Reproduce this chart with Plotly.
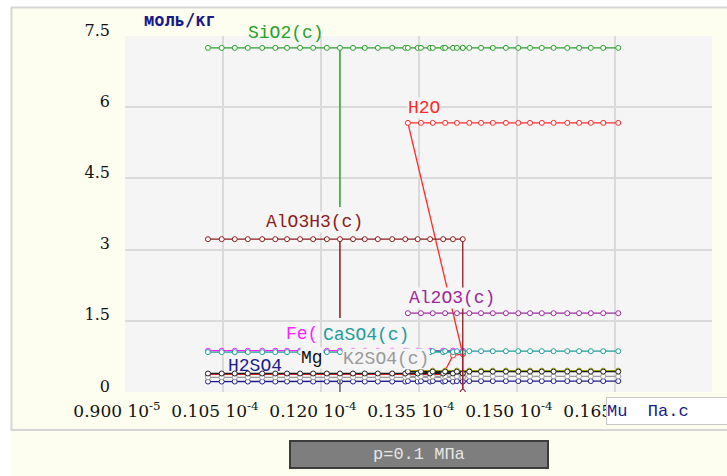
import plotly.graph_objects as go

# ---- data -------------------------------------------------------------
# dynamic viscosity of the solution, Pa*s (two calculation branches)
MU_A = [1.027e-5, 1.048e-5, 1.068e-5, 1.088e-5, 1.110e-5, 1.130e-5, 1.148e-5,
        1.168e-5, 1.188e-5, 1.209e-5, 1.229e-5, 1.249e-5, 1.267e-5, 1.287e-5,
        1.309e-5, 1.329e-5, 1.348e-5, 1.367e-5, 1.387e-5, 1.402e-5, 1.417e-5,
        1.417e-5]  # last state: phase boundary of branch A
MU_B = [1.333e-5, 1.353e-5, 1.371e-5, 1.390e-5, 1.408e-5, 1.427e-5, 1.445e-5,
        1.463e-5, 1.483e-5, 1.502e-5, 1.520e-5, 1.538e-5, 1.556e-5, 1.577e-5,
        1.595e-5, 1.613e-5, 1.632e-5, 1.655e-5]

# amounts, mol/kg (None = phase absent on the branch)
SIO2_A = [7.25, 7.25, 7.25, 7.25, 7.25, 7.25, 7.25, 7.25, 7.25, 7.25, 7.25,
          7.25, 7.25, 7.25, 7.25, 7.25, 7.25, 7.25, 7.25, 7.25, 7.25, 7.25]
SIO2_B = [7.25, 7.25, 7.25, 7.25, 7.25, 7.25, 7.25, 7.25, 7.25, 7.25, 7.25,
          7.25, 7.25, 7.25, 7.25, 7.25, 7.25, 7.25]

H2O_A = [0.37, 0.37, 0.37, 0.37, 0.37, 0.37, 0.37, 0.37, 0.37, 0.37, 0.37,
         0.37, 0.37, 0.37, 0.37, 0.37, 0.37, 0.37, 0.37, 0.77, 0.80, 0.80]
H2O_B = [5.67, 5.67, 5.67, 5.67, 5.67, 5.67, 5.67, 5.67, 5.67, 5.67, 5.67,
         5.67, 5.67, 5.67, 5.67, 5.67, 5.67, 5.67]

ALO3H3_A = [3.22, 3.22, 3.22, 3.22, 3.22, 3.22, 3.22, 3.22, 3.22, 3.22, 3.22,
            3.22, 3.22, 3.22, 3.22, 3.22, 3.22, 3.22, 3.22, 3.22, 3.22, 0.0]
ALO3H3_B = [None] * 18

AL2O3_A = [None] * 22
AL2O3_B = [1.66, 1.66, 1.66, 1.66, 1.66, 1.66, 1.66, 1.66, 1.66, 1.66, 1.66,
           1.66, 1.66, 1.66, 1.66, 1.66, 1.66, 1.66]

FE_A = [0.87, 0.87, 0.87, 0.87, 0.87, 0.87, 0.87, 0.87, 0.87, 0.87, 0.87,
        0.87, 0.87, 0.87, 0.87, 0.87, 0.87, 0.87, 0.87, 0.87, 0.87, 0.0]
FE_B = [None] * 18

CASO4_A = [0.84, 0.84, 0.84, 0.84, 0.84, 0.84, 0.84, 0.84, 0.84, 0.84, 0.84,
           0.84, 0.84, 0.84, 0.84, 0.84, 0.84, 0.84, 0.84, 0.84, 0.84, 0.84]
CASO4_B = [0.86, 0.86, 0.86, 0.86, 0.86, 0.86, 0.86, 0.86, 0.86, 0.86, 0.86,
           0.86, 0.86, 0.86, 0.86, 0.86, 0.86, 0.86]

MG_A = [0.39, 0.39, 0.39, 0.39, 0.39, 0.39, 0.39, 0.39, 0.39, 0.39, 0.39,
        0.39, 0.39, 0.39, 0.39, 0.39, 0.39, 0.39, 0.39, 0.39, 0.39, 0.39]
MG_B = [0.43, 0.43, 0.43, 0.43, 0.43, 0.43, 0.43, 0.43, 0.43, 0.43, 0.43,
        0.43, 0.43, 0.43, 0.43, 0.43, 0.43, 0.43]

K2SO4_A = [0.31, 0.31, 0.31, 0.31, 0.31, 0.31, 0.31, 0.31, 0.31, 0.31, 0.31,
           0.31, 0.31, 0.31, 0.31, 0.31, 0.31, 0.31, 0.31, 0.31, 0.31, 0.31]
K2SO4_B = [0.33, 0.33, 0.33, 0.33, 0.33, 0.33, 0.33, 0.33, 0.33, 0.33, 0.33,
           0.33, 0.33, 0.33, 0.33, 0.33, 0.33, 0.33]

H2SO4_A = [0.22, 0.22, 0.22, 0.22, 0.22, 0.22, 0.22, 0.22, 0.22, 0.22, 0.22,
           0.22, 0.22, 0.22, 0.22, 0.22, 0.22, 0.22, 0.22, 0.22, 0.22, 0.22]
H2SO4_B = [0.23, 0.23, 0.23, 0.23, 0.23, 0.23, 0.23, 0.23, 0.23, 0.23, 0.23,
           0.23, 0.23, 0.23, 0.23, 0.23, 0.23, 0.23]

OLIVE_A = [None] * 22
OLIVE_B = [0.45, 0.45, 0.45, 0.45, 0.45, 0.45, 0.45, 0.45, 0.45, 0.45, 0.45,
           0.45, 0.45, 0.45, 0.45, 0.45, 0.45, 0.45]

# jump of a phase at the state MU_A[DIP_INDEX]
DIP_INDEX = 10
SIO2_DIP = 3.90
ALO3H3_DIP = 1.56
K2SO4_DIP = 0.0

X_TICKS = [0.90e-5, 1.05e-5, 1.20e-5, 1.35e-5, 1.50e-5, 1.65e-5]
X_TICK_TEXT = ["0.900 10<sup>-5</sup>", "0.105 10<sup>-4</sup>",
               "0.120 10<sup>-4</sup>", "0.135 10<sup>-4</sup>",
               "0.150 10<sup>-4</sup>", "0.165 10<sup>-4</sup>"]
Y_TICKS = [0, 1.5, 3, 4.5, 6, 7.5]
Y_TICK_TEXT = ["0", "1.5", "3", "4.5", "6", "7.5"]

# ---- figure -----------------------------------------------------------
W, H = 727, 476
PL, PR, PT, PB = 125, 712, 36, 392          # plot area in pixels
IVORY = "#fefef0"
PLOT_BG = "#f5f5f5"
MONO = "Liberation Mono, DejaVu Sans Mono, monospace"


def px(x):
    return (x - PL) / (PR - PL)


def py(y):
    return (PB - y) / (PB - PT)


fig = go.Figure()


def add_species(color, ya, yb, width=1.3):
    fig.add_trace(go.Scatter(
        x=MU_A + MU_B, y=ya + yb, mode="lines+markers",
        connectgaps=False, showlegend=False, hoverinfo="x+y",
        line=dict(color=color, width=width),
        marker=dict(symbol="circle", size=5, color="white",
                    line=dict(color=color, width=1)),
    ))


def add_dip(color, ya, dip):
    fig.add_trace(go.Scatter(
        x=[MU_A[DIP_INDEX], MU_A[DIP_INDEX]], y=[ya[DIP_INDEX], dip],
        mode="lines", showlegend=False, hoverinfo="skip",
        line=dict(color=color, width=1.5),
    ))


C_SIO2 = "#28a028"
C_H2O = "#ff2a2a"
C_ALO3H3 = "#8c1c1c"
C_AL2O3 = "#9c289c"
C_FE = "#ff20ff"
C_CASO4 = "#1f9c9c"
C_MG = "#202020"
C_K2SO4 = "#9a9a9a"
C_H2SO4 = "#1c1c8c"
C_OLIVE = "#a0a000"

add_species(C_AL2O3, AL2O3_A, AL2O3_B)
add_dip(C_SIO2, SIO2_A, SIO2_DIP)
add_species(C_SIO2, SIO2_A, SIO2_B)
add_species(C_H2O, H2O_A, H2O_B)
add_species(C_H2SO4, H2SO4_A, H2SO4_B)
add_dip("#606060", K2SO4_A, K2SO4_DIP)
add_species(C_K2SO4, K2SO4_A, K2SO4_B)
add_species(C_OLIVE, OLIVE_A, OLIVE_B)
add_species(C_MG, MG_A, MG_B)
add_species(C_FE, FE_A, FE_B)
add_species(C_CASO4, CASO4_A, CASO4_B)
add_dip(C_ALO3H3, ALO3H3_A, ALO3H3_DIP)
add_species(C_ALO3H3, ALO3H3_A, ALO3H3_B)

# ---- species labels ----------------------------------------------------
LABELS = [
    ("SiO2(c)", C_SIO2, 247, 33, None),
    ("H2O", C_H2O, 407, 108, PLOT_BG),
    ("AlO3H3(c)", C_ALO3H3, 265, 222, PLOT_BG),
    ("Al2O3(c)", C_AL2O3, 408, 298, PLOT_BG),
    ("Fe(", C_FE, 285, 334, PLOT_BG),
    ("CaSO4(c)", C_CASO4, 322, 335, PLOT_BG),
    ("H2SO4", C_H2SO4, 227, 366, None),
    ("Mg", "#111111", 300, 358, PLOT_BG),
    ("K2SO4(c)", C_K2SO4, 342, 359, PLOT_BG),
]
annotations = []
for text, color, x, y, bg in LABELS:
    annotations.append(dict(
        text=text, xref="paper", yref="paper", x=px(x), y=py(y),
        xanchor="left", yanchor="middle", showarrow=False,
        font=dict(family=MONO, size=18, color=color),
        bgcolor=bg if bg else "rgba(0,0,0,0)", borderpad=0,
    ))

# axis titles
annotations.append(dict(
    text="<b>моль/кг</b>", xref="paper", yref="paper", x=px(142), y=py(20),
    xanchor="left", yanchor="middle", showarrow=False,
    font=dict(family="DejaVu Sans Mono", size=17, color="#1a1a8a"),
))
annotations.append(dict(
    text="Mu  Па.с", xref="paper", yref="paper", x=px(606), y=py(411),
    xanchor="left", yanchor="middle", showarrow=False, align="left",
    width=124, height=26, bgcolor="white", bordercolor="#c8c8c8",
    borderwidth=1, borderpad=0,
    font=dict(family=MONO, size=17, color="#1a1a8a"),
))
# pressure button
annotations.append(dict(
    text="p=0.1 МПа", xref="paper", yref="paper", x=px(419), y=py(454),
    xanchor="center", yanchor="middle", showarrow=False,
    font=dict(family=MONO, size=17, color="#e6e6e6"),
))

shapes = [
    # white page margins around the chart frame
    dict(type="rect", xref="paper", yref="paper", x0=px(0), x1=px(11),
         y0=py(0), y1=py(H), fillcolor="white", line_width=0, layer="below"),
    dict(type="rect", xref="paper", yref="paper", x0=px(0), x1=px(W),
         y0=py(0), y1=py(7), fillcolor="white", line_width=0, layer="below"),
    # frame border
    dict(type="line", xref="paper", yref="paper", x0=px(11), x1=px(W),
         y0=py(7.5), y1=py(7.5), line=dict(color="#d6d6d6", width=2)),
    dict(type="line", xref="paper", yref="paper", x0=px(11.5), x1=px(11.5),
         y0=py(7), y1=py(431), line=dict(color="#d6d6d6", width=2)),
    dict(type="line", xref="paper", yref="paper", x0=px(11), x1=px(W),
         y0=py(430), y1=py(430), line=dict(color="#d6d6d6", width=2)),
    # pressure button
    dict(type="rect", xref="paper", yref="paper", x0=px(290), x1=px(548),
         y0=py(468), y1=py(441), fillcolor="#7e7e7e",
         line=dict(color="#3c3c3c", width=2)),
]

fig.update_layout(
    width=W, height=H,
    margin=dict(l=PL, r=W - PR, t=PT, b=H - PB, pad=0),
    paper_bgcolor=IVORY, plot_bgcolor=PLOT_BG,
    showlegend=False,
    xaxis=dict(range=[0.9e-5, 1.7985e-5], tickvals=X_TICKS,
               ticktext=X_TICK_TEXT, showgrid=True, gridcolor="#dadada",
               gridwidth=2, zeroline=False, showline=False, ticks="",
               tickfont=dict(family="DejaVu Serif", size=17, color="#111111"),
               ticklabelstandoff=7, ticklabelshift=-8),
    yaxis=dict(range=[0, 7.5], tickvals=Y_TICKS, ticktext=Y_TICK_TEXT,
               showgrid=True, gridcolor="#dadada", gridwidth=2,
               zeroline=False, showline=False, ticks="",
               tickfont=dict(family="DejaVu Serif", size=16, color="#111111"),
               ticklabelstandoff=14, ticklabelshift=-6),
    annotations=annotations,
    shapes=shapes,
)

fig.write_html("out.html")
